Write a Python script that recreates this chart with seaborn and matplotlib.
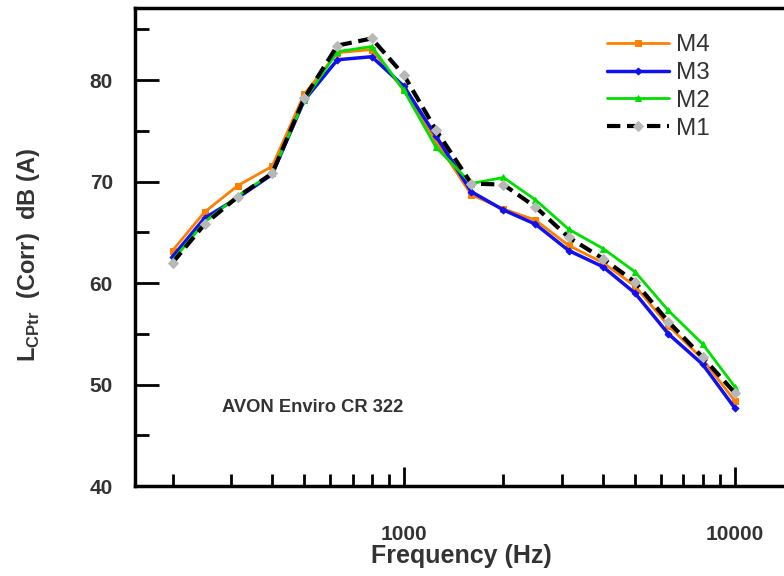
import matplotlib
matplotlib.use("Agg")
import matplotlib.pyplot as plt
import seaborn as sns
from matplotlib.ticker import LogLocator, FixedLocator, MultipleLocator, NullFormatter

# 1/3-octave band centres (Hz)
freq = [200, 250, 315, 400, 500, 630, 800, 1000, 1250, 1600,
        2000, 2500, 3150, 4000, 5000, 6300, 8000, 10000]

# corrected levels dB(A) for each measurement
m4 = [63.2, 67.0, 69.6, 71.5, 78.6, 82.7, 83.0, 79.0, 74.0, 68.7,
      67.3, 66.2, 63.7, 62.0, 59.7, 55.8, 52.5, 48.4]
m3 = [62.6, 66.4, 68.4, 70.7, 78.0, 82.0, 82.3, 79.4, 74.5, 69.0,
      67.2, 65.8, 63.2, 61.6, 59.0, 55.0, 52.0, 47.7]
m2 = [62.2, 66.0, 68.6, 70.8, 78.0, 82.8, 83.3, 79.0, 73.4, 69.8,
      70.4, 68.2, 65.3, 63.4, 61.1, 57.3, 54.0, 49.8]
m1 = [62.0, 65.8, 68.5, 70.8, 78.2, 83.4, 84.1, 80.5, 75.1, 69.8,
      69.7, 67.5, 64.5, 62.4, 60.1, 56.2, 52.7, 49.2]

sns.set_style("white")
plt.rcParams['font.family'] = ['Liberation Sans', 'DejaVu Sans']

fig = plt.figure(figsize=(7.84, 5.76), dpi=100)
ax = fig.add_axes([135 / 784, 90 / 576, 655 / 784, 478 / 576])

txt = '#333333'

sns.lineplot(x=freq, y=m4, ax=ax, color='#ff7f00', lw=2, marker='s', ms=5,
             mec='#ff7f00', label='M4')
sns.lineplot(x=freq, y=m3, ax=ax, color='#1010f0', lw=2.5, marker='D', ms=3.5,
             mec='#1010f0', label='M3')
sns.lineplot(x=freq, y=m2, ax=ax, color='#00e000', lw=2, marker='^', ms=5,
             mec='#00e000', label='M2')
sns.lineplot(x=freq, y=m1, ax=ax, color='black', lw=3, ls=(0, (3.2, 1.6)),
             marker='D', ms=5, mfc='#b8b8b8', mec='#b8b8b8', label='M1')

ax.set_xscale('log')
ax.set_xlim(154, 14700)
ax.set_ylim(40, 87.1)

ax.xaxis.set_major_locator(FixedLocator([1000, 10000]))
ax.xaxis.set_minor_locator(LogLocator(base=10, subs=range(2, 10)))
ax.xaxis.set_minor_formatter(NullFormatter())
ax.set_xticklabels(['1000', '10000'])
ax.yaxis.set_major_locator(MultipleLocator(10))
ax.yaxis.set_minor_locator(MultipleLocator(5))

ax.tick_params(axis='both', which='both', bottom=True, left=True, top=False, right=False)
ax.tick_params(axis='both', which='major', direction='in', width=2, colors='black',
               labelcolor=txt, labelsize=15)
ax.tick_params(axis='x', which='major', length=14, pad=28)
ax.tick_params(axis='y', which='major', length=17, pad=16)
ax.tick_params(axis='x', which='minor', direction='in', length=9, width=2, color='black')
ax.tick_params(axis='y', which='minor', direction='in', length=10, width=2, color='black')
for lab in ax.get_xticklabels() + ax.get_yticklabels():
    lab.set_fontweight('bold')

for side in ['left', 'bottom', 'top']:
    ax.spines[side].set_linewidth(2.5)
    ax.spines[side].set_color('black')
ax.spines['right'].set_visible(False)

ax.set_xlabel('Frequency (Hz)', fontsize=18, fontweight='bold', color=txt)
ax.xaxis.set_label_coords(0.499, -0.122)
ax.set_ylabel(r'L$_{\mathregular{CPtr}}$  (Corr)  dB (A)', fontsize=17,
              fontweight='bold', color=txt)
ax.yaxis.set_label_coords(-0.142, 0.483)

ax.text(222 / 784, 1 - 407 / 576, 'AVON Enviro CR 322', transform=fig.transFigure,
        fontsize=13.2, fontweight='bold', color=txt, va='center', ha='left')

leg = ax.legend(loc='upper left', bbox_to_anchor=(595 / 784, 1 - 22 / 576),
                bbox_transform=fig.transFigure, frameon=False, fontsize=17.5,
                handlelength=2.55, labelspacing=0.24, handletextpad=0.3,
                borderpad=0, numpoints=1)
for t in leg.get_texts():
    t.set_color(txt)

fig.savefig('out.png', dpi=100)
